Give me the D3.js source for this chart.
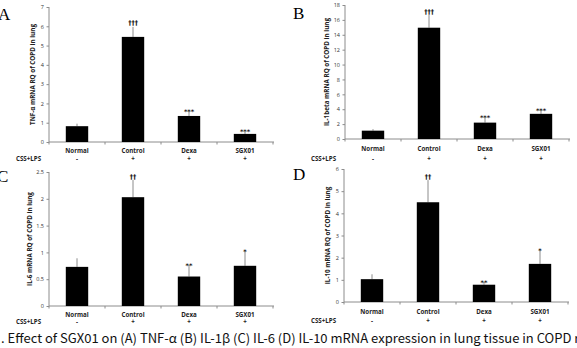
<!DOCTYPE html>
<html lang="en">
<head>
<meta charset="utf-8">
<title>COPD cytokine mRNA</title>
<script src="https://cdn.jsdelivr.net/npm/d3@7"></script>
<style>
  body { margin: 0; padding: 0; background: #fff; overflow: hidden; }
  .axis path, .axis line { stroke: #8c8c8c; stroke-width: 1px; }
  .axis text { font-family: "Open Sans", sans-serif; font-size: 5.5px; fill: #333; }
  .cat { font-family: "Open Sans", sans-serif; font-size: 6.2px; font-weight: bold; fill: #222; }
  .ytitle { font-family: "Open Sans", sans-serif; font-size: 6.3px; font-weight: bold; fill: #222; }
  .mark { font-family: "DejaVu Sans", sans-serif; font-size: 6.5px; font-weight: bold; fill: #111; }
  .letter { font-family: "Liberation Serif", serif; font-size: 17px; fill: #000; }
  .caption { font-family: "Noto Sans CJK KR", sans-serif; font-size: 11.5px; fill: #111; }
</style>
</head>
<body>
<script>
// data
var categories = ["Normal", "Control", "Dexa", "SGX01"];
var cssLps = ["-", "+", "+", "+"];

var tnfValues = [0.82, 5.45, 1.35, 0.42];
var tnfErrors = [0.13, 0.52, 0.25, 0.1];
var tnfMarks = ["", "†††", "***", "***"];

var il1Values = [1.12, 14.95, 2.2, 3.38];
var il1Errors = [0.2, 1.7, 0.7, 0.5];
var il1Marks = ["", "†††", "***", "***"];

var il6Values = [0.73, 2.03, 0.55, 0.75];
var il6Errors = [0.16, 0.32, 0.21, 0.27];
var il6Marks = ["", "††", "**", "*"];

var il10Values = [1.03, 4.5, 0.78, 1.72];
var il10Errors = [0.22, 1.0, 0.12, 0.62];
var il10Marks = ["", "††", "**", "*"];

var caption = ". Effect of SGX01 on (A) TNF-α (B) IL-1β (C) IL-6 (D) IL-10 mRNA expression in lung tissue in COPD rats";

// panel layout
var panels = [
  {letter: "A", lx: -2, ly: 20, title: "TNF-α mRNA RQ of COPD in lung", titleX: 33, max: 7, step: 1,
   values: tnfValues, errors: tnfErrors, marks: tnfMarks,
   x0: 49, x1: 273, top: 7, bottom: 142, catY: 152.5, rowY: 160.8, rowLabelX: 16},
  {letter: "B", lx: 293, ly: 18.5, title: "IL-1beta mRNA RQ of COPD in lung", titleX: 327, max: 18, step: 2,
   values: il1Values, errors: il1Errors, marks: il1Marks,
   x0: 345, x1: 569, top: 5, bottom: 139, catY: 150.5, rowY: 161, rowLabelX: 311},
  {letter: "C", lx: -3, ly: 182, title: "IL-6 mRNA RQ of COPD in lung", titleX: 30, max: 2.5, step: 0.5,
   values: il6Values, errors: il6Errors, marks: il6Marks,
   x0: 49, x1: 273, top: 172, bottom: 306, catY: 317, rowY: 324.2, rowLabelX: 16},
  {letter: "D", lx: 293, ly: 180, title: "IL-10 mRNA RQ of COPD in lung", titleX: 327.5, max: 6, step: 1,
   values: il10Values, errors: il10Errors, marks: il10Marks,
   x0: 344, x1: 568, top: 169, bottom: 302, catY: 314, rowY: 323.3, rowLabelX: 311}
];

var svg = d3.select("body").append("svg")
  .attr("width", 577)
  .attr("height", 348);

panels.forEach(function(p) {
  var g = svg.append("g");

  var x = d3.scaleBand().domain(categories).range([p.x0, p.x1]).padding(0);
  var y = d3.scaleLinear().domain([0, p.max]).range([p.bottom, p.top]);
  var barW = x.bandwidth() * 0.4;

  var ticks = d3.range(0, p.max + p.step / 2, p.step);

  g.append("g")
    .attr("class", "axis")
    .attr("transform", "translate(" + p.x0 + ",0)")
    .call(d3.axisLeft(y).tickValues(ticks).tickSize(2.5).tickPadding(2.5).tickFormat(d3.format("~g")))
    .call(function(a) { a.select(".domain").attr("d", "M0," + p.top + "V" + p.bottom); });

  // x axis line with ticks at the band edges
  var xa = g.append("g").attr("class", "axis");
  xa.append("path").attr("d", "M" + p.x0 + "," + p.bottom + "H" + (p.x1 + 1)).attr("fill", "none");
  xa.selectAll("line.edge")
    .data(categories.map(function(c) { return x(c); }).concat([p.x1]))
    .enter().append("line")
    .attr("x1", function(d) { return d; })
    .attr("x2", function(d) { return d; })
    .attr("y1", p.bottom)
    .attr("y2", p.bottom + 2.5);

  // error bars (upper only)
  g.selectAll("line.err")
    .data(p.values)
    .enter().append("line")
    .attr("stroke", "#8c8c8c")
    .attr("stroke-width", 1)
    .attr("x1", function(d, i) { return x(categories[i]) + x.bandwidth() / 2; })
    .attr("x2", function(d, i) { return x(categories[i]) + x.bandwidth() / 2; })
    .attr("y1", function(d) { return y(d); })
    .attr("y2", function(d, i) { return y(d + p.errors[i]); });

  g.selectAll("rect.bar")
    .data(p.values)
    .enter().append("rect")
    .attr("fill", "#000")
    .attr("x", function(d, i) { return x(categories[i]) + (x.bandwidth() - barW) / 2; })
    .attr("y", function(d) { return y(d); })
    .attr("width", barW)
    .attr("height", function(d) { return p.bottom - y(d); });

  // significance marks; group opacity keeps them greyscale-antialiased
  g.append("g")
    .attr("opacity", 0.99)
    .selectAll("text.mark")
    .data(p.marks)
    .enter().append("text")
    .attr("class", "mark")
    .attr("text-anchor", "middle")
    .attr("x", function(d, i) { return x(categories[i]) + x.bandwidth() / 2; })
    .attr("y", function(d, i) {
      var t = y(p.values[i] + p.errors[i]);
      return d.indexOf("*") >= 0 ? t + 2.5 : t - 1.5;
    })
    .text(function(d) { return d; });

  g.selectAll("text.cat")
    .data(categories)
    .enter().append("text")
    .attr("class", "cat")
    .attr("text-anchor", "middle")
    .attr("x", function(d) { return x(d) + x.bandwidth() / 2; })
    .attr("y", p.catY)
    .text(function(d) { return d; });

  g.selectAll("text.sign")
    .data(cssLps)
    .enter().append("text")
    .attr("class", "cat")
    .attr("text-anchor", "middle")
    .attr("x", function(d, i) { return x(categories[i]) + x.bandwidth() / 2; })
    .attr("y", p.rowY)
    .text(function(d) { return d; });

  g.append("text")
    .attr("class", "cat")
    .attr("x", p.rowLabelX)
    .attr("y", p.rowY)
    .text("CSS+LPS");

  g.append("text")
    .attr("class", "ytitle")
    .attr("text-anchor", "middle")
    .attr("transform", "translate(" + p.titleX + "," + ((p.top + p.bottom) / 2) + ") rotate(-90)")
    .attr("dy", "0.35em")
    .text(p.title);

  g.append("text")
    .attr("class", "letter")
    .attr("x", p.lx)
    .attr("y", p.ly)
    .text(p.letter);
});

// caption, squeezed so that "COPD" ends near the right edge like the scan
var cap = svg.append("text")
  .attr("class", "caption")
  .attr("x", 0)
  .attr("y", 0)
  .text(caption);
var cut = caption.indexOf("COPD") + 4;
var w = cap.node().getSubStringLength(0, cut);
var sx = 571 / w;
cap.attr("transform", "translate(1,343) scale(" + sx + ",1.1)");
</script>
</body>
</html>
